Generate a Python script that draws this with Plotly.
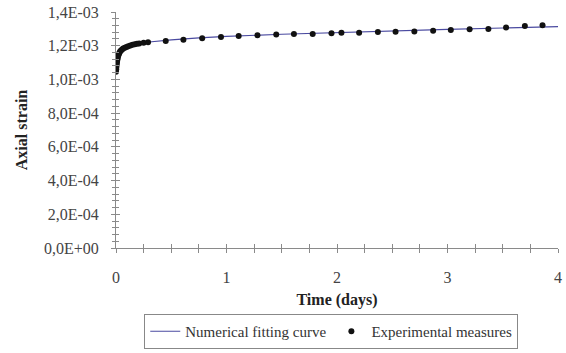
import plotly.graph_objects as go

# Experimental measures (time in days, axial strain)
exp_t = [0.000, 0.002, 0.004, 0.006, 0.008, 0.010, 0.013, 0.016, 0.020, 0.025,
         0.030, 0.037, 0.045, 0.055, 0.065, 0.080, 0.095, 0.110, 0.130, 0.150,
         0.170, 0.190, 0.210, 0.250,
         0.29, 0.45, 0.61, 0.78, 0.95, 1.11, 1.28, 1.45, 1.61, 1.78, 1.95, 2.04,
         2.20, 2.37, 2.53, 2.70, 2.87, 3.03, 3.20, 3.37, 3.53, 3.70, 3.86]
exp_v = [1.045e-3, 1.060e-3, 1.075e-3, 1.090e-3, 1.100e-3, 1.110e-3, 1.120e-3, 1.130e-3, 1.140e-3, 1.150e-3,
         1.157e-3, 1.165e-3, 1.172e-3, 1.178e-3, 1.183e-3, 1.188e-3, 1.193e-3, 1.197e-3, 1.201e-3, 1.205e-3,
         1.208e-3, 1.211e-3, 1.213e-3, 1.217e-3,
         1.220e-3, 1.228e-3, 1.235e-3, 1.244e-3, 1.252e-3, 1.258e-3, 1.262e-3, 1.266e-3, 1.269e-3, 1.270e-3, 1.274e-3, 1.277e-3,
         1.277e-3, 1.281e-3, 1.283e-3, 1.284e-3, 1.289e-3, 1.293e-3, 1.297e-3, 1.299e-3, 1.308e-3, 1.317e-3, 1.321e-3]

# Numerical fitting curve
fit_t = [0.0, 0.005, 0.01, 0.02, 0.03, 0.05, 0.08, 0.12, 0.2, 0.3, 0.5, 0.75,
         1.0, 1.5, 2.0, 2.5, 3.0, 3.5, 4.0]
fit_v = [1.040e-3, 1.085e-3, 1.110e-3, 1.140e-3, 1.157e-3, 1.175e-3, 1.188e-3, 1.199e-3,
         1.212e-3, 1.222e-3, 1.235e-3, 1.246e-3, 1.255e-3, 1.268e-3, 1.279e-3, 1.288e-3,
         1.297e-3, 1.305e-3, 1.313e-3]

x_ticks = [0, 1, 2, 3, 4]
x_labels = ["0", "1", "2", "3", "4"]
y_ticks = [0, 2e-4, 4e-4, 6e-4, 8e-4, 1.0e-3, 1.2e-3, 1.4e-3]
y_labels = ["0,0E+00", "2,0E-04", "4,0E-04", "6,0E-04", "8,0E-04", "1,0E-03", "1,2E-03", "1,4E-03"]

FONT = "Liberation Serif, Times New Roman, serif"
AX = "#8a8a8a"

fig = go.Figure()
fig.add_trace(go.Scatter(x=fit_t, y=fit_v, mode="lines", name="Numerical fitting curve",
                         line=dict(color="#4a4aa0", width=1.2)))
fig.add_trace(go.Scatter(x=exp_t, y=exp_v, mode="markers", name="Experimental measures",
                         marker=dict(color="#111111", size=6)))
# invisible trace on overlay axes so they render
fig.add_trace(go.Scatter(x=[0], y=[0], xaxis="x2", yaxis="y2", mode="markers",
                         marker=dict(opacity=0), showlegend=False, hoverinfo="skip"))

common_x = dict(range=[0, 4], showgrid=False, zeroline=False, showline=True, automargin=False,
                linecolor=AX, linewidth=1, tickcolor=AX, tickwidth=1)
common_y = dict(range=[0, 1.4e-3], showgrid=False, zeroline=False, showline=True, automargin=False,
                linecolor=AX, linewidth=1, tickcolor=AX, tickwidth=1)

fig.update_layout(
    width=566, height=353,
    margin=dict(l=116, r=8, t=12, b=105, autoexpand=False),
    paper_bgcolor="white", plot_bgcolor="white",
    font=dict(family=FONT, color="#333333", size=16),
    xaxis=dict(**common_x, tickvals=x_ticks, ticktext=x_labels, ticks="outside", ticklen=4,
               minor=dict(dtick=0.25, ticks="outside", ticklen=4, tickcolor=AX),
               tickfont=dict(size=16, color="#444444"), ticklabelstandoff=11,
               title=dict(text="<b>Time (days)</b>", font=dict(size=16, color="#222222"), standoff=8)),
    yaxis=dict(**common_y, tickvals=y_ticks, ticktext=y_labels, ticks="outside", ticklen=4,
               minor=dict(dtick=4e-5, ticks="outside", ticklen=3, tickcolor=AX),
               tickfont=dict(size=16, color="#444444"), ticklabelstandoff=9,
               title=dict(text="<b>Axial strain</b>", font=dict(size=16, color="#222222"), standoff=12)),
    xaxis2=dict(**common_x, overlaying="x", anchor="y2", showticklabels=False,
                tickvals=x_ticks, ticks="inside", ticklen=4,
                minor=dict(dtick=0.25, ticks="inside", ticklen=4, tickcolor=AX)),
    yaxis2=dict(**common_y, overlaying="y", anchor="x2", showticklabels=False,
                tickvals=y_ticks, ticks="inside", ticklen=4,
                minor=dict(dtick=4e-5, ticks="inside", ticklen=3, tickcolor=AX)),
    legend=dict(orientation="h", x=0.487, xanchor="center", xref="paper",
                y=(353 - 349) / 353, yanchor="bottom", yref="container",
                bordercolor="#888888", borderwidth=1, bgcolor="white",
                font=dict(size=15, color="#333333"), itemwidth=30, tracegroupgap=0),
    showlegend=True,
)

fig.write_html("out.html")
